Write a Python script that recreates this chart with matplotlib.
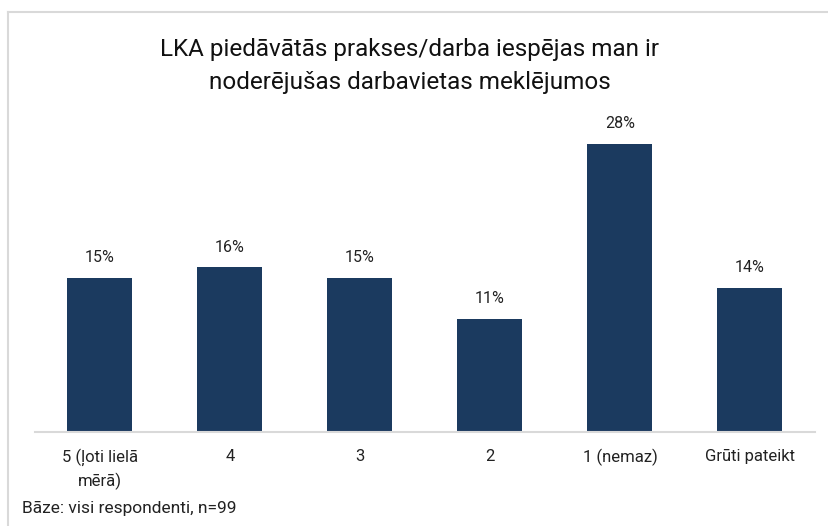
import matplotlib
matplotlib.use("Agg")
import matplotlib.pyplot as plt
from matplotlib.lines import Line2D

categories = ["5 (ļoti lielā\nmērā)", "4", "3", "2", "1 (nemaz)", "Grūti pateikt"]
values = [15, 16, 15, 11, 28, 14]
labels = [f"{v}%" for v in values]

title = "LKA piedāvātās prakses/darba iespējas man ir\nnoderējušas darbavietas meklējumos"
note = "Bāze: visi respondenti, n=99"

FONT = ["Roboto", "Liberation Sans", "DejaVu Sans"]
plt.rcParams['font.family'] = FONT

W, H = 829, 526
fig = plt.figure(figsize=(W / 100, H / 100), dpi=100)
fig.patch.set_facecolor("white")

# axes placement (pixels)
left, right, base, top = 35, 815, 432, 123
ax = fig.add_axes([left / W, (H - base) / H, (right - left) / W, (base - top) / H])

bar_color = "#1b3a5f"
x = range(len(categories))
bars = ax.bar(x, values, width=0.5, color=bar_color)
ax.set_xlim(-0.5, len(categories) - 0.5)
ax.set_ylim(0, 30)

for b, lab in zip(bars, labels):
    ax.annotate(lab, (b.get_x() + b.get_width() / 2, b.get_height()),
                xytext=(0, 9), textcoords="offset points", ha="center", va="bottom",
                fontsize=11.5, color="#222222")

ax.set_xticks(list(x))
ax.set_xticklabels(categories, fontsize=12, color="#222222", linespacing=1.45)
ax.tick_params(axis="x", length=0, pad=12)
ax.set_yticks([])
for s in ["top", "right", "left"]:
    ax.spines[s].set_visible(False)
ax.spines["bottom"].set_color("#d9d9d9")
ax.spines["bottom"].set_linewidth(1.5)

fig.text(410 / W, 1 - 66 / H, title, ha="center", va="center", fontsize=17.5,
         color="#111111", linespacing=1.55)
fig.text(22 / W, 1 - 509 / H, note, ha="left", va="center", fontsize=12.5, color="#222222")

# partial chart border (top and left)
fig.add_artist(Line2D([8 / W, 1.0], [1 - 12 / H, 1 - 12 / H], transform=fig.transFigure,
                      color="#d9d9d9", linewidth=1.5))
fig.add_artist(Line2D([8 / W, 8 / W], [1 - 12 / H, 0], transform=fig.transFigure,
                      color="#d9d9d9", linewidth=1.5))

fig.savefig("out.png", dpi=100, facecolor="white")
